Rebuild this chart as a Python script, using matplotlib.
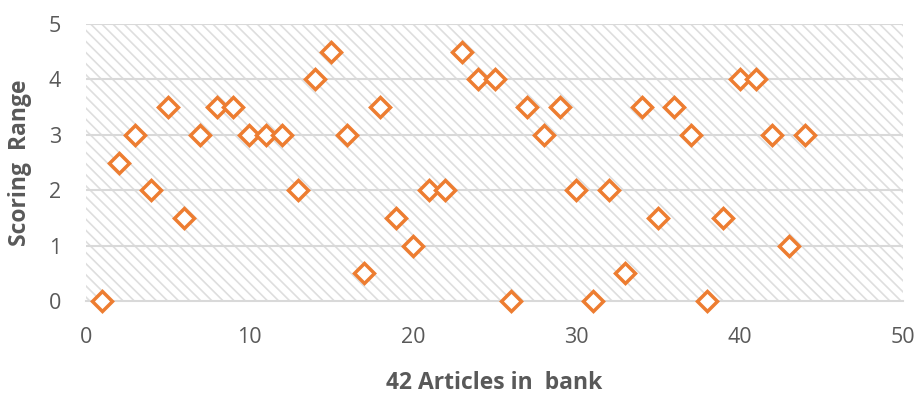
import matplotlib.pyplot as plt
from matplotlib.patches import Rectangle

# score per article (articles numbered 1..44)
artikli = list(range(1, 45))
ocene = [0, 2.5, 3, 2, 3.5, 1.5, 3, 3.5, 3.5, 3, 3, 3, 2, 4, 4.5, 3, 0.5, 3.5, 1.5, 1,
         2, 2, 4.5, 4, 4, 0, 3.5, 3, 3.5, 2, 0, 2, 0.5, 3.5, 1.5, 3.5, 3, 0, 1.5, 4,
         4, 3, 1, 3]

x_ticks = [0, 10, 20, 30, 40, 50]
y_ticks = [0, 1, 2, 3, 4, 5]

plt.rcParams['font.family'] = ['Open Sans', 'DejaVu Sans']
plt.rcParams['hatch.linewidth'] = 1.2

fig = plt.figure(figsize=(9.19, 3.94), dpi=100)
ax = fig.add_axes([0.0936, 0.236, 0.889, 0.703])

# hatched plot background
ax.add_patch(Rectangle((0, 0), 1, 1, transform=ax.transAxes, facecolor='white',
                       edgecolor='#dedede', linewidth=0, hatch='\\\\\\', zorder=0))

for y in y_ticks[1:]:
    ax.axhline(y, color='#d9d9d9', linewidth=1.5, zorder=1)

ax.plot(artikli, ocene, linestyle='none', marker='D', markersize=10.5,
        markerfacecolor='white', markeredgecolor='#ed7d31', markeredgewidth=2.5,
        zorder=3, clip_on=False)

ax.set_xlim(0, 50)
ax.set_ylim(0, 5)
ax.set_xticks(x_ticks)
ax.set_yticks(y_ticks)
ax.tick_params(length=0, labelsize=15.5, labelcolor='#595959')
ax.tick_params(axis='x', pad=19)
ax.tick_params(axis='y', pad=18)

for side in ['left', 'right', 'top']:
    ax.spines[side].set_visible(False)
ax.spines['bottom'].set_color('#d9d9d9')
ax.spines['bottom'].set_linewidth(1.5)

ax.set_xlabel('42 Articles in  bank', fontsize=16.5, fontweight='bold', color='#595959', labelpad=16)
ax.set_ylabel('Scoring  Range', fontsize=16.5, fontweight='bold', color='#595959', labelpad=12)

plt.savefig('out.png', dpi=100)
plt.close()
